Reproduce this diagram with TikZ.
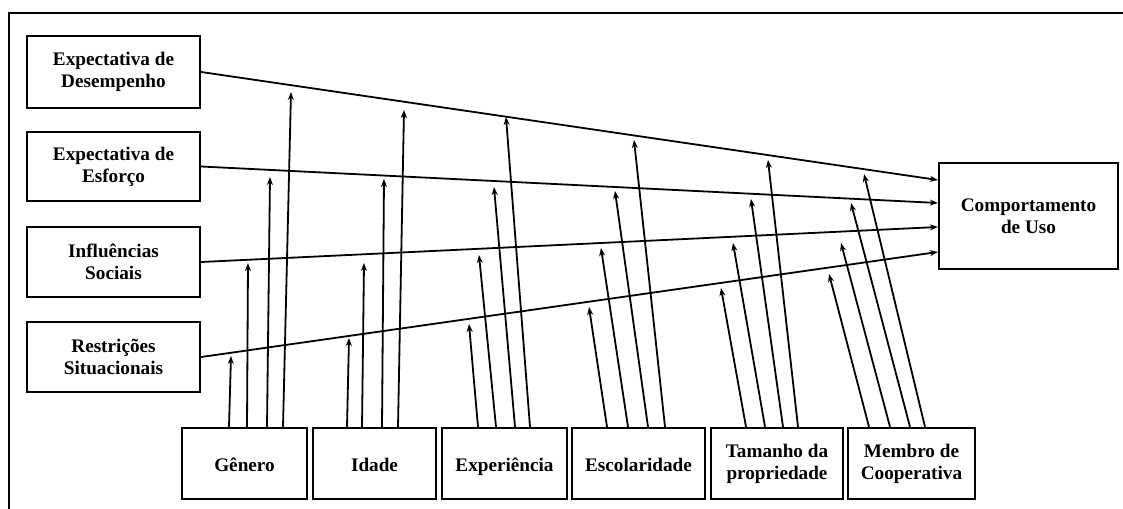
\documentclass[tikz,border=0pt]{standalone}
\usepackage{fontspec}
\setmainfont{Liberation Serif}
\usetikzlibrary{arrows.meta,calc}
\begin{document}
\begin{tikzpicture}[x=0.75pt,y=-0.75pt,
  box/.style={draw,line width=1.7pt,inner sep=0pt,align=center,
    font=\bfseries\fontsize{14.4}{16.5}\selectfont},
  single/.style={text height=12pt,text depth=0pt},
  sz/.style 2 args={minimum width=#1*0.75pt,minimum height=#2*0.75pt},
  link/.style={line width=1.35pt,-{Stealth[length=6pt,width=4.5pt]}},
  frame/.style={line width=2pt}
]
\useasboundingbox (0,0) rectangle (1123,509);
\clip (0,0) rectangle (1123,509);
\draw[frame] (9,530) -- (9,13) -- (1140,13);

% left constructs
\node[box,sz={173}{72}] (d) at (113.5,72) {Expectativa de\\Desempenho};
\node[box,sz={173}{69}] (e) at (113.5,166.5) {Expectativa de\\Esforço};
\node[box,sz={173}{70}] (i) at (113.5,262) {Influências\\Sociais};
\node[box,sz={173}{70}] (r) at (113.5,357) {Restrições\\Situacionais};

% outcome
\node[box,sz={179}{106}] (comp) at (1028.5,216) {Comportamento\\de Uso};

% moderators
\node[box,single,sz={125}{71}] (gen) at (244.5,463.5) {Gênero};
\node[box,single,sz={123}{71}] (ida) at (374.5,463.5) {Idade};
\node[box,single,sz={125}{71}] (exp) at (504.5,463.5) {Experiência};
\node[box,single,sz={133}{71}] (esc) at (638.5,463.5) {Escolaridade};
\node[box,sz={132}{71}] (tam) at (777,463.5) {Tamanho da\\propriedade};
\node[box,sz={127}{71}] (mem) at (911.5,463.5) {Membro de\\Cooperativa};

% main paths
\draw[link] (d.east) -- ([yshift=27pt]comp.west);
\draw[link] (e.east) -- ([yshift=9.75pt]comp.west);
\draw[link] (i.east) -- ([yshift=-8.25pt]comp.west);
\draw[link] (r.east) -- ([yshift=-27pt]comp.west);

% moderating arrows
\foreach \n/\k/\dx/\tx/\ty in {
  gen/1/-15.5/231/356, gen/2/2.5/248/263, gen/3/22.5/270/177, gen/4/38.5/291/92,
  ida/1/-27.5/349/338, ida/2/-12.5/364/263, ida/3/7.5/384/179, ida/4/23.5/404/110,
  exp/1/-26.5/469/324, exp/2/-8.5/479/255, exp/3/10.5/494/187, exp/4/25.5/506/117,
  esc/1/-31.5/589/307, esc/2/-10.5/601/248, esc/3/9.5/615/191, esc/4/26.5/634/140,
  tam/1/-31/721/288, tam/2/-12/733/243, tam/3/6/751/199, tam/4/21/768/160,
  mem/1/-42.5/829/274, mem/2/-21.5/841/243, mem/3/-1.5/851/203, mem/4/13.5/864/174}
{
  \coordinate (tip-\n-\k) at (\tx,\ty);
  \draw[link] ($(\n.north)+(\dx,0)$) -- (tip-\n-\k);
}
\end{tikzpicture}
\end{document}
